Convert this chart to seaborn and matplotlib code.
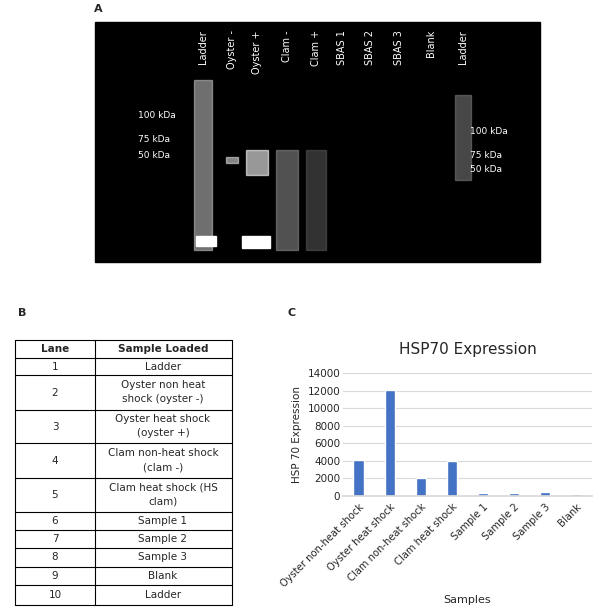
import numpy as np
import pandas as pd
import matplotlib
matplotlib.use('Agg')
import matplotlib.pyplot as plt
import seaborn as sns

samples = ['Oyster non-heat shock', 'Oyster heat shock', 'Clam non-heat shock',
           'Clam heat shock', 'Sample 1', 'Sample 2', 'Sample 3', 'Blank']
expression = [4050, 12050, 2050, 4000, 350, 350, 420, 200]

lanes = ['1', '2', '3', '4', '5', '6', '7', '8', '9', '10']
loaded = ['Ladder', 'Oyster non heat\nshock (oyster -)', 'Oyster heat shock\n(oyster +)',
          'Clam non-heat shock\n(clam -)', 'Clam heat shock (HS\nclam)', 'Sample 1',
          'Sample 2', 'Sample 3', 'Blank', 'Ladder']
gel_labels = ['Ladder', 'Oyster -', 'Oyster +', 'Clam -', 'Clam +',
              'SBAS 1', 'SBAS 2', 'SBAS 3', 'Blank', 'Ladder']

sns.set_theme(style='white')
plt.rcParams['font.family'] = ['DejaVu Sans']
W, H = 603, 613
fig = plt.figure(figsize=(W / 100, H / 100), dpi=100)

# overlay in pixel coords
ov = fig.add_axes([0, 0, 1, 1])
ov.set_xlim(0, W)
ov.set_ylim(H, 0)
ov.axis('off')

# panel A: gel
ov.add_patch(plt.Rectangle((95, 22), 445, 240, color='black'))
gel_x = [203, 232, 257, 287, 316, 342, 370, 399, 431, 463]
for x, lab in zip(gel_x, gel_labels):
    ov.text(x, 30, lab, color='white', rotation=90, ha='center', va='top', fontsize=7)
# a few faint bands
for x, w, y0, y1, c in [(203, 18, 80, 250, '#bbbbbb'), (257, 22, 150, 175, '#ffffff'),
                        (232, 12, 157, 163, '#dddddd'), (287, 22, 150, 250, '#888888'),
                        (316, 20, 150, 250, '#555555'), (463, 16, 95, 180, '#777777')]:
    ov.add_patch(plt.Rectangle((x - w / 2, y0), w, y1 - y0, color=c, alpha=0.6))
ov.add_patch(plt.Rectangle((242, 236), 28, 12, color='white'))
ov.add_patch(plt.Rectangle((196, 236), 20, 10, color='white'))
for y, t in [(116, '100 kDa'), (139, '75 kDa'), (155, '50 kDa')]:
    ov.text(138, y, t, color='white', fontsize=6.5, va='center')
for y, t in [(131, '100 kDa'), (155, '75 kDa'), (170, '50 kDa')]:
    ov.text(470, y, t, color='white', fontsize=6.5, va='center')
ov.text(98, 9, 'A', fontsize=8, fontweight='bold', ha='center', va='center')

# panel B: table
ov.text(22, 313, 'B', fontsize=8, fontweight='bold', ha='center', va='center')
ov.text(292, 313, 'C', fontsize=8, fontweight='bold', ha='center', va='center')
rows = [340, 358, 375, 410, 443, 478, 512, 530, 548, 567, 585, 605]
xs = [15, 95, 232]
for y in rows:
    ov.plot([xs[0], xs[2]], [y, y], color='black', lw=0.8)
for x in xs:
    ov.plot([x, x], [rows[0], rows[-1]], color='black', lw=0.8)
ov.text(55, 349, 'Lane', fontsize=7.5, fontweight='bold', ha='center', va='center')
ov.text(163, 349, 'Sample Loaded', fontsize=7.5, fontweight='bold', ha='center', va='center')
for i, (ln, s) in enumerate(zip(lanes, loaded)):
    yc = (rows[i + 1] + rows[i + 2]) / 2
    ov.text(55, yc, ln, fontsize=7.5, ha='center', va='center')
    ov.text(163, yc, s, fontsize=7.5, ha='center', va='center', linespacing=1.5)
ov.text(467, 600, 'Samples', fontsize=8, ha='center', va='center')

# panel C: bar chart
ax = fig.add_axes([343 / W, 1 - 496 / H, 249 / W, 123 / H])
df = pd.DataFrame({'Samples': samples, 'Expression': expression})
sns.barplot(data=df, x='Samples', y='Expression', color='#4472C4', width=0.33,
            saturation=1, ax=ax)
ax.set_ylim(0, 14000)
ax.set_yticks(range(0, 14001, 2000))
ax.yaxis.grid(True, color='#d9d9d9', lw=0.8)
ax.set_axisbelow(True)
for s in ['top', 'right', 'left']:
    ax.spines[s].set_visible(False)
ax.spines['bottom'].set_color('#d9d9d9')
ax.tick_params(axis='y', labelsize=7.5, length=0, pad=2)
ax.tick_params(axis='x', labelsize=7.2, length=0, pad=4)
plt.setp(ax.get_xticklabels(), rotation=45, ha='right', rotation_mode='anchor')
ax.set_xlabel('')
ax.set_ylabel('HSP 70 Expression', fontsize=7.5)
ax.set_title('HSP70 Expression', fontsize=11, pad=14)

fig.savefig('out.png', dpi=100, facecolor='white')
